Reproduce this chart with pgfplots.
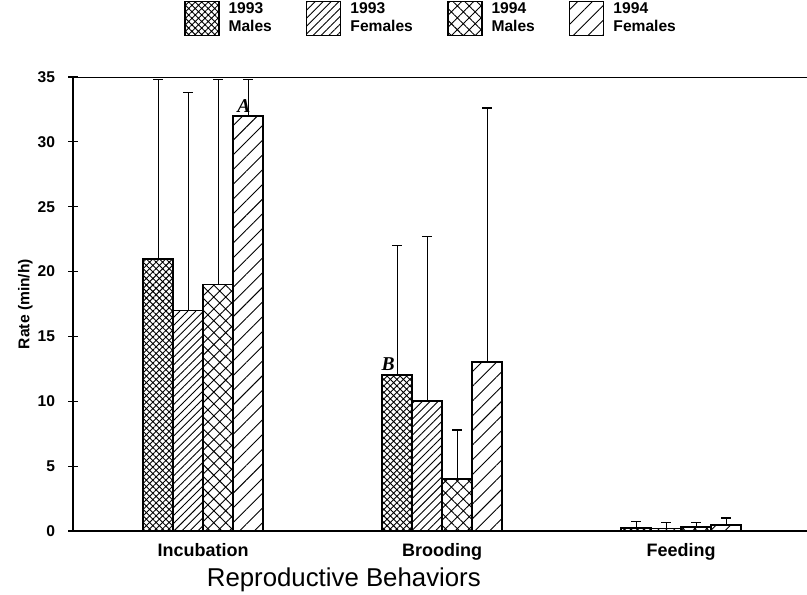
\documentclass[border=0pt]{standalone}
\usepackage{fontspec}
\setmainfont{Liberation Sans}
\newfontfamily\timesbi{Liberation Serif}
\usepackage{pgfplots}
\usepackage{pgfplotstable}
\pgfplotsset{compat=1.18}
\usetikzlibrary{patterns.meta}

\pgfplotstableread{
x m93 m93e f93 f93e m94 m94e f94 f94e
0 21 13.8 17 16.8 19 15.8 32 2.8
1 12 10.0 10 12.7 4 3.8 13 19.6
2 0.25 0.5 0.2 0.45 0.3 0.35 0.45 0.55
}\datatable

\pgfplotsset{
  mybar/.style={draw=black, line width=0.9pt,
    error bars/y dir=plus, error bars/y explicit,
    error bars/error bar style={line width=0.5pt, black},
    error bars/error mark options={rotate=90, line width=0.7pt, mark size=2.5pt, black}},
}

\begin{document}
\begin{tikzpicture}
\begin{axis}[
  width=367pt, height=227pt, scale only axis,
  xmin=-0.544, xmax=2.527, ymin=0, ymax=35,
  ybar=0pt, bar width=15pt,
  axis lines*=left,
  axis line style={line width=1.1pt},
  xtick={0,1,2}, xticklabels={Incubation,Brooding,Feeding},
  x tick style={draw=none},
  ytick={0,5,...,35},
  y tick style={line width=0.6pt, black},
  tick align=center, major tick length=5pt,
  /pgf/number format/assume math mode=true,
  yticklabel style={font=\fontsize{7.8}{9}\selectfont\bfseries, xshift=-3pt},
  xticklabel style={font=\fontsize{9}{10}\selectfont\bfseries},
  ylabel={Rate (min/h)},
  ylabel style={font=\fontsize{7.8}{9}\selectfont\bfseries, at={(axis description cs:-0.065,0.5)}, anchor=center},
  xlabel={Reproductive Behaviors},
  xlabel style={font=\fontsize{12.9}{14}\selectfont, at={(axis description cs:0.369,-0.108)}, anchor=center},
  legend columns=4,
  legend cell align=left,
  legend style={draw=none, fill=none, inner sep=0pt,
    at={(axis description cs:0.489,1)}, anchor=south, yshift=19pt,
    font=\fontsize{7.8}{9}\selectfont\bfseries,
    cells={align=left},
    column sep=2.5pt,
    /tikz/every even column/.append style={column sep=15pt}},
  legend image code/.code={\draw[#1, line width=0.8pt] (0pt,-8.5pt) rectangle (17pt,8.5pt);},
]
\addplot[mybar, pattern={Hatch[angle=45,distance=2.3pt,line width=0.45pt]}]
  table[x=x, y=m93, y error=m93e] {\datatable};
\addplot[mybar, pattern={Lines[angle=45,distance=2.8pt,line width=0.45pt]}]
  table[x=x, y=f93, y error=f93e] {\datatable};
\addplot[mybar, pattern={Hatch[angle=45,distance=4.2pt,line width=0.45pt]}]
  table[x=x, y=m94, y error=m94e] {\datatable};
\addplot[mybar, pattern={Lines[angle=45,distance=5.2pt,line width=0.45pt]}]
  table[x=x, y=f94, y error=f94e] {\datatable};
\legend{1993\\Males, 1993\\Females, 1994\\Males, 1994\\Females}
\draw[line width=1.2pt] (rel axis cs:0,1) -- (rel axis cs:1,1);
\node[font=\timesbi\bfseries\itshape\fontsize{9.8}{10}\selectfont] at (axis cs:0,32.8) [xshift=20.5pt] {A};
\node[font=\timesbi\bfseries\itshape\fontsize{9.8}{10}\selectfont] at (axis cs:1,12.85) [xshift=-27pt] {B};
\end{axis}
\pgfresetboundingbox
\path[use as bounding box] ([xshift=-36.5pt,yshift=-31.5pt]current axis.south west) rectangle ([yshift=38.5pt]current axis.north east);
\end{tikzpicture}
\end{document}
